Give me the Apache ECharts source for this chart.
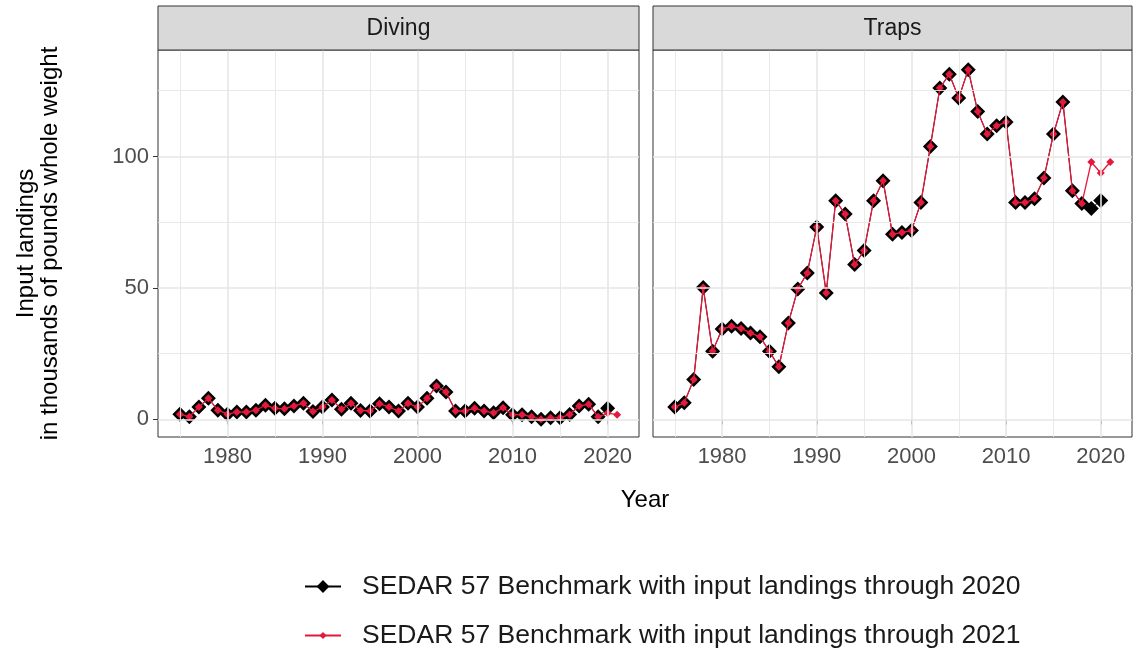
<!DOCTYPE html>
<html><head><meta charset="utf-8">
<script src="https://cdn.jsdelivr.net/npm/echarts@6/dist/echarts.min.js"></script>
<style>html,body{margin:0;padding:0;background:#fff}#c{width:1133px;height:652px}</style>
</head><body><div id="c"></div>
<script>
// ---- data ----
const panels = ['Diving', 'Traps'];
const seriesNames = [
  'SEDAR 57 Benchmark with input landings through 2020',
  'SEDAR 57 Benchmark with input landings through 2021'
];
const yearsThrough2020 = [1975,1976,1977,1978,1979,1980,1981,1982,1983,1984,1985,1986,1987,1988,1989,1990,1991,1992,1993,1994,1995,1996,1997,1998,1999,2000,2001,2002,2003,2004,2005,2006,2007,2008,2009,2010,2011,2012,2013,2014,2015,2016,2017,2018,2019,2020];
const yearsThrough2021 = [1975,1976,1977,1978,1979,1980,1981,1982,1983,1984,1985,1986,1987,1988,1989,1990,1991,1992,1993,1994,1995,1996,1997,1998,1999,2000,2001,2002,2003,2004,2005,2006,2007,2008,2009,2010,2011,2012,2013,2014,2015,2016,2017,2018,2019,2020,2021];
const divingThrough2020 = [2.0,1.0,4.7,8.0,3.5,2.0,2.8,2.8,3.5,5.4,4.2,4.1,5.1,6.1,3.0,4.7,7.4,3.9,6.1,3.4,3.2,6.0,4.7,3.2,6.1,4.7,8.0,12.7,10.4,3.2,3.2,4.2,3.2,2.5,4.4,1.8,1.8,1.0,0.1,0.6,0.6,1.9,5.1,5.8,1.0,4.2];
const divingThrough2021 = [2.0,1.0,4.7,8.0,3.5,2.0,2.8,2.8,3.5,5.4,4.2,4.1,5.1,6.1,3.0,4.7,7.4,3.9,6.1,3.4,3.2,6.0,4.7,3.2,6.1,4.7,8.0,12.7,10.4,3.2,3.2,4.2,3.2,2.5,4.4,1.8,1.8,1.0,0.1,0.6,0.6,1.9,5.1,5.8,1.0,2.4,1.8];
const trapsThrough2020 = [4.7,6.3,15.2,50.2,25.9,34.4,35.4,34.6,32.9,31.4,25.9,20.0,36.7,49.6,55.7,73.2,48.1,83.2,78.1,58.9,64.2,83.2,90.8,70.4,71.1,71.8,82.5,103.8,126.0,131.3,122.2,133.0,117.1,108.5,111.7,113.1,82.5,82.5,83.9,91.8,108.5,120.7,87.0,82.1,80.2,83.3];
const trapsThrough2021 = [4.7,6.3,15.2,50.2,25.9,34.4,35.4,34.6,32.9,31.4,25.9,20.0,36.7,49.6,55.7,73.2,48.1,83.2,78.1,58.9,64.2,83.2,90.8,70.4,71.1,71.8,82.5,103.8,126.0,131.3,122.2,133.0,117.1,108.5,111.7,113.1,82.5,82.5,83.9,91.8,108.5,120.7,87.0,82.1,97.9,93.7,97.9];
const xTickLabels = [1980, 1990, 2000, 2010, 2020];
const xMinorGrid = [1975, 1985, 1995, 2005, 2015];
const yTickLabels = [0, 50, 100];
const yMinorGrid = [25, 75, 125];

// ---- layout ----
const FONT = 'Liberation Sans, Arial, sans-serif';
const X_MIN = 1972.7, X_MAX = 2023.3, Y_MIN = -6.69, Y_MAX = 140.49;
const gridBoxes = [{left: 158, width: 481}, {left: 653, width: 479}];
const TOP = 50, HEIGHT = 387;
const RED = '#e41a3c';

const panelData = [
  [divingThrough2020, divingThrough2021],
  [trapsThrough2020, trapsThrough2021]
];
const pair = (xs, ys) => ys.map((v, i) => [xs[i], v]);
const plain = v => String(v);

const grids = gridBoxes.map(g => ({
  left: g.left, top: TOP, width: g.width, height: HEIGHT,
  show: true, borderColor: '#333', borderWidth: 1, backgroundColor: '#fff'
}));

const xAxes = gridBoxes.map((g, i) => ({
  type: 'value', gridIndex: i, min: X_MIN, max: X_MAX,
  axisLine: {show: false}, splitLine: {show: false},
  axisTick: {show: true, customValues: xTickLabels, length: 5, lineStyle: {color: '#333', width: 1}},
  axisLabel: {customValues: xTickLabels, formatter: plain, fontSize: 22, color: '#4d4d4d', margin: 9, fontFamily: FONT}
}));

const yAxes = gridBoxes.map((g, i) => ({
  type: 'value', gridIndex: i, min: Y_MIN, max: Y_MAX,
  axisLine: {show: false}, splitLine: {show: false},
  axisTick: {show: i === 0, customValues: yTickLabels, length: 5, lineStyle: {color: '#333', width: 1}},
  axisLabel: {show: i === 0, customValues: yTickLabels, formatter: plain, fontSize: 22, color: '#4d4d4d', margin: 9, fontFamily: FONT},
  name: i === 0 ? 'Input landings\nin thousands of pounds whole weight' : '',
  nameLocation: 'middle', nameGap: 96,
  nameTextStyle: {fontSize: 24, lineHeight: 24, color: '#000', fontFamily: FONT}
}));

const series = [];
gridBoxes.forEach((g, i) => {
  const mk = [];
  xTickLabels.forEach(v => mk.push({xAxis: v, lineStyle: {width: 1.6}}));
  xMinorGrid.forEach(v => mk.push({xAxis: v, lineStyle: {width: 0.9}}));
  yTickLabels.forEach(v => mk.push({yAxis: v, lineStyle: {width: 1.6}}));
  yMinorGrid.forEach(v => mk.push({yAxis: v, lineStyle: {width: 0.9}}));
  series.push({
    type: 'line', xAxisIndex: i, yAxisIndex: i, data: [], z: 1, silent: true,
    markLine: {silent: true, symbol: ['none', 'none'], animation: false, label: {show: false},
      lineStyle: {color: '#e6e6e6', type: 'solid'}, emphasis: {disabled: true}, data: mk}
  });
  series.push({
    type: 'line', name: seriesNames[0], xAxisIndex: i, yAxisIndex: i, z: 3,
    data: pair(yearsThrough2020, panelData[i][0]),
    symbol: 'diamond', symbolSize: 15, showSymbol: true,
    itemStyle: {color: '#000'}, lineStyle: {color: '#000', width: 1}
  });
  series.push({
    type: 'line', name: seriesNames[1], xAxisIndex: i, yAxisIndex: i, z: 4,
    data: pair(yearsThrough2021, panelData[i][1]),
    symbol: 'diamond', symbolSize: 8, showSymbol: true,
    itemStyle: {color: RED}, lineStyle: {color: RED, width: 1.3}
  });
});

const graphics = [];
gridBoxes.forEach((g, i) => {
  graphics.push({type: 'rect', shape: {x: g.left, y: 6, width: g.width, height: TOP - 6},
    style: {fill: '#d9d9d9', stroke: '#333', lineWidth: 1}, z: 10});
  graphics.push({type: 'text', x: g.left + g.width / 2, y: 29, z: 11,
    style: {text: panels[i], fill: '#1a1a1a', font: '23px ' + FONT, textAlign: 'center', textVerticalAlign: 'middle'}});
});
graphics.push({type: 'text', x: 645, y: 500, z: 11,
  style: {text: 'Year', fill: '#000', font: '24px ' + FONT, textAlign: 'center', textVerticalAlign: 'middle'}});

const legendBase = {
  orient: 'horizontal', selectedMode: false, itemWidth: 36, itemGap: 0,
  textStyle: {fontSize: 26.5, color: '#1a1a1a', fontFamily: FONT, padding: [0, 0, 0, 16]}
};

const option = {
  backgroundColor: '#fff',
  animation: false,
  grid: grids,
  xAxis: xAxes,
  yAxis: yAxes,
  legend: [
    Object.assign({}, legendBase, {data: [seriesNames[0]], left: 299, top: 568, itemHeight: 16}),
    Object.assign({}, legendBase, {data: [seriesNames[1]], left: 299, top: 617, itemHeight: 9})
  ],
  graphic: graphics,
  series: series
};

const chart = echarts.init(document.getElementById('c'), null, {renderer: 'canvas'});
chart.setOption(option);
</script></body></html>
